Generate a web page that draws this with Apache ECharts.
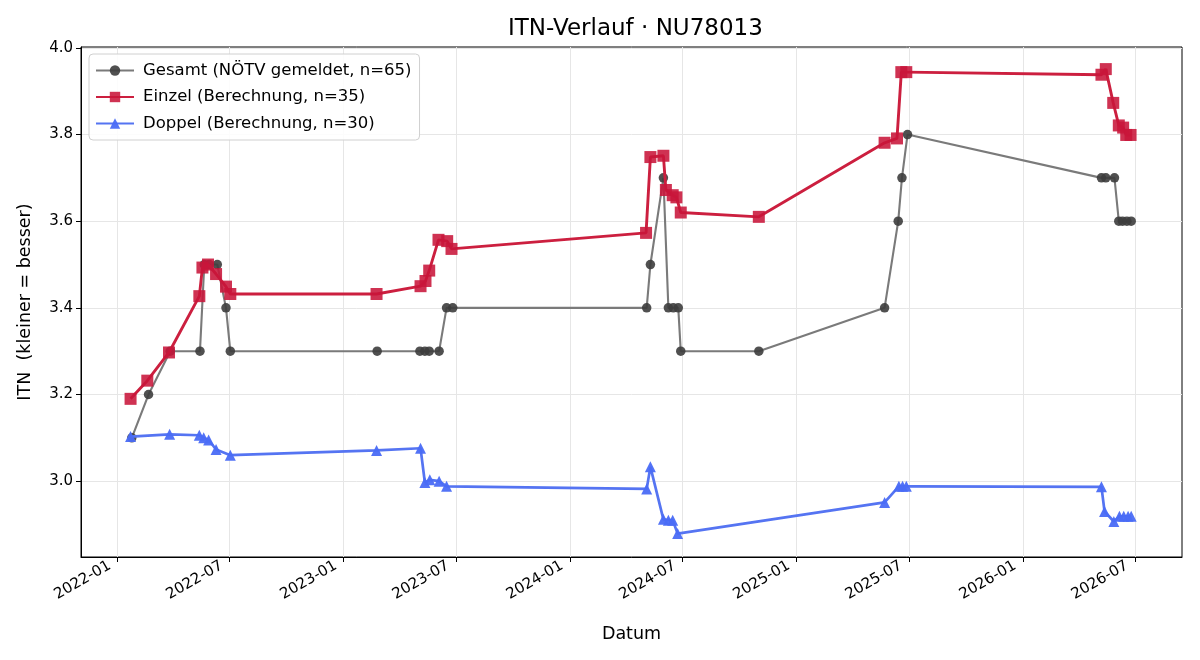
<!DOCTYPE html>
<html>
<head>
<meta charset="utf-8">
<script src="https://cdn.jsdelivr.net/npm/echarts@6/dist/echarts.min.js"></script>
<style>
  html, body { margin: 0; padding: 0; background: #fff; }
  #chart { width: 1200px; height: 660px; }
</style>
</head>
<body>
<div id="chart"></div>
<script>
// Gesamt (NÖTV gemeldet)
var gesamtDates = ['2022-01-24','2022-02-20','2022-03-27','2022-05-14','2022-05-21','2022-05-29','2022-06-11','2022-06-25','2022-07-02',
  '2023-02-24','2023-05-04','2023-05-12','2023-05-19','2023-06-04','2023-06-16','2023-06-26',
  '2024-05-04','2024-05-10','2024-05-31','2024-06-08','2024-06-16','2024-06-24','2024-06-28','2024-11-01',
  '2025-05-23','2025-06-14','2025-06-20','2025-06-29',
  '2026-05-08','2026-05-15','2026-05-29','2026-06-05','2026-06-11','2026-06-18','2026-06-25'];
var gesamtValues = [3.1,3.2,3.3,3.3,3.5,3.5,3.5,3.4,3.3,
  3.3,3.3,3.3,3.3,3.3,3.4,3.4,
  3.4,3.5,3.7,3.4,3.4,3.4,3.3,3.3,
  3.4,3.6,3.7,3.8,
  3.7,3.7,3.7,3.6,3.6,3.6,3.6];

// Einzel (Berechnung)
var einzelDates = ['2022-01-22','2022-02-18','2022-03-25','2022-05-13','2022-05-18','2022-05-27','2022-06-09','2022-06-25','2022-07-02',
  '2023-02-23','2023-05-05','2023-05-13','2023-05-19','2023-06-03','2023-06-17','2023-06-24',
  '2024-05-03','2024-05-10','2024-05-31','2024-06-04','2024-06-15','2024-06-21','2024-06-28','2024-11-01',
  '2025-05-23','2025-06-12','2025-06-19','2025-06-27',
  '2026-05-08','2026-05-15','2026-05-27','2026-06-05','2026-06-12','2026-06-17','2026-06-24'];
var einzelValues = [3.19,3.232,3.297,3.427,3.493,3.5,3.478,3.449,3.432,
  3.432,3.45,3.462,3.486,3.557,3.554,3.536,
  3.573,3.748,3.751,3.672,3.66,3.655,3.62,3.61,
  3.781,3.791,3.944,3.944,
  3.938,3.951,3.873,3.821,3.816,3.799,3.799];

// Doppel (Berechnung)
var doppelDates = ['2022-01-22','2022-03-26','2022-05-13','2022-05-20','2022-05-28','2022-06-09','2022-07-02',
  '2023-02-23','2023-05-05','2023-05-12','2023-05-20','2023-06-04','2023-06-16',
  '2024-05-04','2024-05-10','2024-05-31','2024-06-08','2024-06-15','2024-06-23',
  '2025-05-23','2025-06-15','2025-06-21','2025-06-27',
  '2026-05-08','2026-05-13','2026-05-28','2026-06-06','2026-06-13','2026-06-20','2026-06-25'];
var doppelValues = [3.103,3.108,3.106,3.1,3.095,3.073,3.06,
  3.071,3.076,2.997,3.003,3.0,2.988,
  2.982,3.033,2.912,2.91,2.91,2.879,
  2.951,2.988,2.988,2.988,
  2.987,2.93,2.907,2.919,2.919,2.919,2.919];

var xTicks = ['2022-01','2022-07','2023-01','2023-07','2024-01','2024-07','2025-01','2025-07','2026-01','2026-07'];
var yTicks = [3.0, 3.2, 3.4, 3.6, 3.8, 4.0];

function ts(s) {
  var p = s.split('-');
  return new Date(+p[0], +p[1] - 1, p[2] ? +p[2] : 1).getTime();
}
function pairs(dates, vals) {
  return dates.map(function (d, i) { return [ts(d), vals[i]]; });
}
var xTickValues = xTicks.map(ts);

var chart = echarts.init(document.getElementById('chart'));
var font = 'DejaVu Sans';

chart.setOption({
  animation: false,
  backgroundColor: '#fff',
  textStyle: { fontFamily: font },
  title: {
    text: 'ITN-Verlauf · NU78013',
    left: 503,
    top: 13,
    textStyle: { fontFamily: font, fontSize: 23, fontWeight: 'normal', color: '#000' }
  },
  grid: {
    left: 81, right: 18, top: 47, bottom: 103,
    show: true, borderColor: '#000', borderWidth: 1
  },
  legend: {
    orient: 'vertical',
    left: 89, top: 54,
    padding: [8, 8, 8, 6],
    itemGap: 9.5,
    itemWidth: 38,
    itemHeight: 13,
    backgroundColor: 'rgba(255,255,255,0.85)',
    borderColor: '#d0d0d0',
    borderWidth: 1,
    borderRadius: 4,
    textStyle: { fontFamily: font, fontSize: 16.5, color: '#000', padding: [0, 0, 0, 4] }
  },
  xAxis: {
    type: 'value',
    min: ts('2021-11-03'),
    max: ts('2026-09-15'),
    name: 'Datum',
    nameLocation: 'middle',
    nameGap: 68,
    nameTextStyle: { fontFamily: font, fontSize: 17.5, color: '#000' },
    axisLine: { show: true, lineStyle: { color: '#000', width: 1 } },
    axisTick: { show: true, length: 5, lineStyle: { color: '#000' }, customValues: xTickValues },
    axisLabel: {
      customValues: xTickValues,
      rotate: 30,
      fontFamily: font, fontSize: 15, color: '#000', margin: 3,
      padding: [0, 9, 0, 0],
      formatter: function (v) {
        var d = new Date(v);
        var m = d.getMonth() + 1;
        return d.getFullYear() + '-' + (m < 10 ? '0' + m : m);
      }
    },
    splitLine: { show: true, lineStyle: { color: '#e6e6e6', width: 1 } }
  },
  yAxis: {
    type: 'value',
    min: 2.825,
    max: 4.002,
    name: 'ITN  (kleiner = besser)',
    nameLocation: 'middle',
    nameGap: 47,
    nameRotate: 90,
    nameTextStyle: { fontFamily: font, fontSize: 17.5, color: '#000' },
    axisLine: { show: true, lineStyle: { color: '#000', width: 1 } },
    axisTick: { show: true, length: 5, lineStyle: { color: '#000' }, customValues: yTicks },
    axisLabel: {
      customValues: yTicks,
      fontFamily: font, fontSize: 15, color: '#000', margin: 8,
      formatter: function (v) { return v.toFixed(1); }
    },
    splitLine: { show: true, lineStyle: { color: '#e6e6e6', width: 1 } }
  },
  series: [
    {
      name: 'Gesamt (NÖTV gemeldet, n=65)',
      type: 'line',
      data: pairs(gesamtDates, gesamtValues),
      symbol: 'circle',
      symbolSize: 9.5,
      showAllSymbol: true,
      lineStyle: { color: '#7a7a7a', width: 2.1 },
      itemStyle: { color: '#3d3d3d', opacity: 0.9 },
      z: 2
    },
    {
      name: 'Einzel (Berechnung, n=35)',
      type: 'line',
      data: pairs(einzelDates, einzelValues),
      symbol: 'rect',
      symbolSize: 12,
      showAllSymbol: true,
      lineStyle: { color: '#cc1f3f', width: 2.9 },
      itemStyle: { color: '#c8163a', opacity: 0.88 },
      z: 3
    },
    {
      name: 'Doppel (Berechnung, n=30)',
      type: 'line',
      data: pairs(doppelDates, doppelValues),
      symbol: 'triangle',
      symbolSize: 11,
      showAllSymbol: true,
      lineStyle: { color: '#5574f2', width: 2.7 },
      itemStyle: { color: '#4a6bf5', opacity: 0.95 },
      z: 4
    }
  ]
});
</script>
</body>
</html>
